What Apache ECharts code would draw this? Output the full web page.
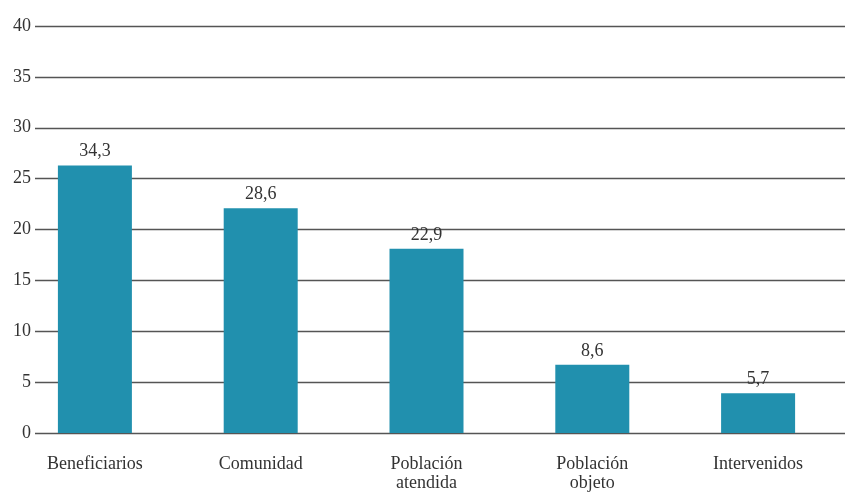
<!DOCTYPE html>
<html>
<head>
<meta charset="utf-8">
<script src="https://cdn.jsdelivr.net/npm/echarts@6/dist/echarts.min.js"></script>
<style>html,body{margin:0;padding:0;background:#fff}#c{width:845px;height:494px}</style>
</head>
<body>
<div id="c"></div>
<script>
const categories = ['Beneficiarios', 'Comunidad', 'Población\natendida', 'Población\nobjeto', 'Intervenidos'];
const barHeights = [26.3, 22.1, 18.1, 6.7, 3.9];
const barLabels = ['34,3', '28,6', '22,9', '8,6', '5,7'];
const yMin = 0, yMax = 40, yStep = 5;

const FONT = '"Liberation Serif", "DejaVu Serif", serif';
const chart = echarts.init(document.getElementById('c'), null, {renderer: 'canvas'});
const gTop = 26, gBottom = 494 - 433;
chart.setOption({
  animation: false,
  grid: [
    {left: 12, right: 4, top: gTop, bottom: gBottom, outerBoundsMode: 'none', containLabel: false},
    {left: 35, right: 0, top: gTop, bottom: gBottom, outerBoundsMode: 'none', containLabel: false}
  ],
  xAxis: [
    {type: 'category', gridIndex: 0, data: categories,
     axisLine: {show: false}, axisTick: {show: false},
     axisLabel: {fontFamily: FONT, fontSize: 18, color: '#333', margin: 22, lineHeight: 19}},
    {type: 'value', gridIndex: 1, show: false, min: 0, max: 1}
  ],
  yAxis: [
    {type: 'value', gridIndex: 0, min: yMin, max: yMax, interval: yStep, show: false},
    {type: 'value', gridIndex: 1, min: yMin, max: yMax, interval: yStep,
     axisLine: {show: false}, axisTick: {show: false},
     axisLabel: {fontFamily: FONT, fontSize: 18, color: '#333', margin: 4, padding: [0, 0, 6, 0]},
     splitLine: {lineStyle: {color: '#555', width: 1.4}}}
  ],
  series: [{
    type: 'bar', xAxisIndex: 0, yAxisIndex: 0,
    data: barHeights, barWidth: 74,
    itemStyle: {color: '#2190ae'},
    label: {show: true, position: 'top', distance: 5,
      fontFamily: FONT, fontSize: 18, color: '#333',
      formatter: p => barLabels[p.dataIndex]},
    z: 3
  }]
});
</script>
</body>
</html>
